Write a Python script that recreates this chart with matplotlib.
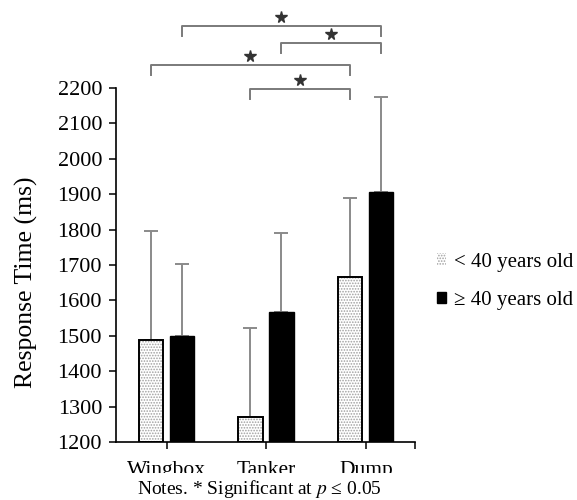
import matplotlib

matplotlib.use("Agg")
import matplotlib.pyplot as plt
from matplotlib.patches import Patch, Rectangle

categories = ["Wingbox", "Tanker", "Dump"]
young_means = [1488, 1270, 1665]
old_means = [1500, 1567, 1905]
young_sd = [307, 253, 225]
old_sd = [203, 223, 270]
young_label = "< 40 years old"
old_label = "\u2265 40 years old"

# significance brackets: (x1, x2, y of bar)
brackets = [
    (0.15, 2.15, 2375),
    (1.15, 2.15, 2327),
    (-0.16, 1.84, 2265),
    (0.84, 1.84, 2197),
]

plt.rcParams["font.family"] = ["Liberation Serif", "DejaVu Serif"]
plt.rcParams["mathtext.fontset"] = "stix"
plt.rcParams["hatch.linewidth"] = 0.8

fig = plt.figure(figsize=(5.77, 5.0), dpi=100)
ax = fig.add_axes([0.201, 0.116, 0.518, 0.708])

x = list(range(len(categories)))
w = 0.245
xl = [i - 0.16 for i in x]
xd = [i + 0.15 for i in x]

err_kw = dict(ecolor="#8a8a8a", elinewidth=1.4, capsize=5, capthick=1.4)
ax.bar(xl, [m - 1200 for m in young_means], width=w, bottom=1200, color="white",
       edgecolor="#a0a0a0", hatch="......", linewidth=0, zorder=2)
ax.bar(xl, [m - 1200 for m in young_means], width=w, bottom=1200, fill=False,
       edgecolor="black", linewidth=1.4, zorder=3)
ax.errorbar(xl, young_means, yerr=[[0] * 3, young_sd], fmt="none", zorder=1, **err_kw)
ax.bar(xd, [m - 1200 for m in old_means], width=w, bottom=1200, color="black",
       edgecolor="black", linewidth=1.0, zorder=3)
ax.errorbar(xd, old_means, yerr=[[0] * 3, old_sd], fmt="none", zorder=1, **err_kw)

for x1, x2, yb in brackets:
    ax.plot([x1, x1, x2, x2], [yb - 28, yb, yb, yb - 28], color="#7a7a7a",
            lw=1.4, clip_on=False)
    ax.plot([(x1 + x2) / 2], [yb + 26], marker="*", markersize=8.5, color="#333333",
            linestyle="none", clip_on=False)

ax.set_ylim(1200, 2200)
ax.set_xlim(-0.51, 2.49)
ax.set_yticks(range(1200, 2201, 100))
ax.set_xticks(x)
ax.set_xticklabels(categories, fontsize=15.5)
ax.set_xticks([2.49], minor=True)
ax.tick_params(axis="x", which="both", direction="out", length=5, width=1.1, pad=9)
ax.tick_params(axis="y", direction="out", length=5, width=1.1, labelsize=16, pad=5)
for side in ["top", "right"]:
    ax.spines[side].set_visible(False)
for side in ["left", "bottom"]:
    ax.spines[side].set_linewidth(1.2)

ax.set_ylabel("Response Time (ms)", fontsize=18.5)
ax.yaxis.set_label_coords(-0.26, 0.45)

# the category labels are cut off at the bottom in the original
clip = Rectangle((0, 0.055), 1, 0.945, transform=fig.transFigure, visible=False)
fig.add_artist(clip)
for lab in ax.get_xticklabels():
    lab.set_clip_on(True)
    lab.set_clip_path(clip)

handles = [
    Patch(facecolor="white", edgecolor="#a0a0a0", hatch="......", linewidth=0, label=young_label),
    Patch(facecolor="black", edgecolor="black", label=old_label),
]
fig.legend(handles=handles, loc="upper left", bbox_to_anchor=(0.757, 0.495),
           frameon=False, fontsize=15, handlelength=0.45, handleheight=0.45,
           handletextpad=0.38, labelspacing=0.92, borderpad=0, borderaxespad=0)

fig.text(0.45, 0.012, "Notes. * Significant at $p$ \u2264 0.05", ha="center",
         fontsize=14)

fig.savefig("out.png", dpi=100)
